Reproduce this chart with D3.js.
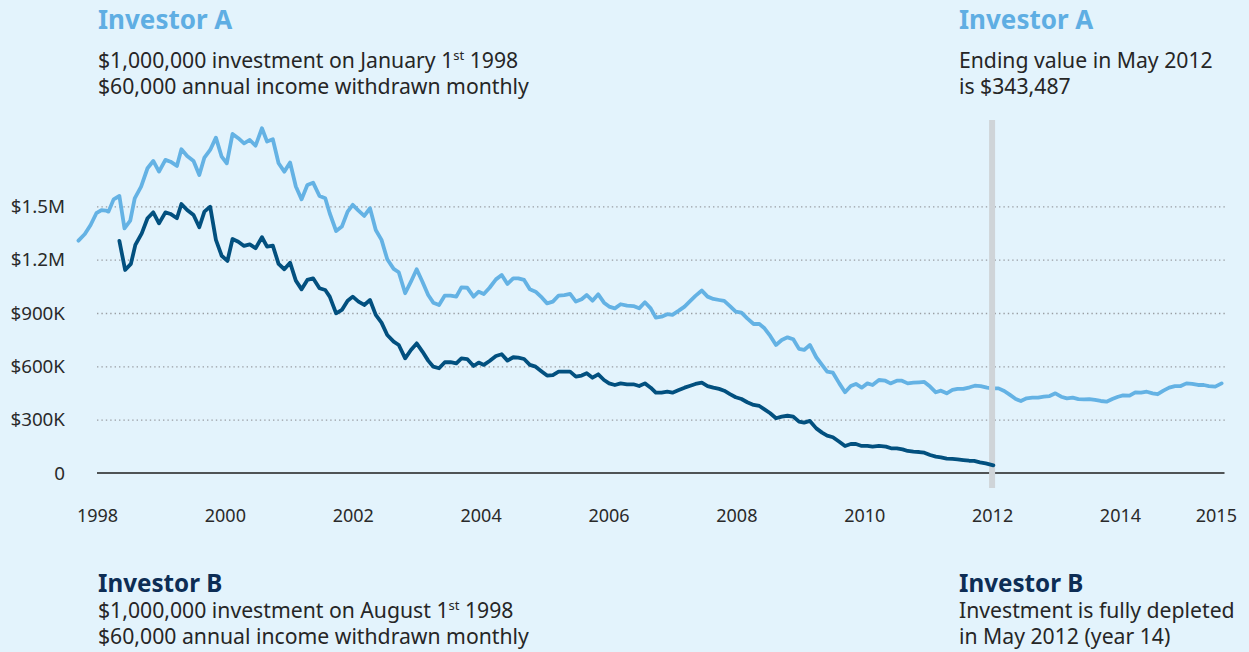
<!DOCTYPE html>
<html><head><meta charset="utf-8">
<script src="https://cdn.jsdelivr.net/npm/d3@7"></script>
<style>
html,body{margin:0;padding:0;background:#e3f3fc;}
svg{display:block;font-family:"Noto Sans","Open Sans",sans-serif;}
</style></head>
<body>
<svg id="chart" width="1249" height="652"></svg>
<script>
// ---- data (values in $ thousands, x in decimal years) ----
const investorA = [[1997.71,1307],[1997.81,1344],[1997.90,1395],[1997.99,1461],[1998.07,1479],[1998.14,1476],[1998.18,1470],[1998.26,1539],[1998.35,1558],[1998.43,1376],[1998.52,1419],[1998.59,1545],[1998.69,1611],[1998.79,1714],[1998.88,1755],[1998.97,1695],[1999.07,1761],[1999.15,1751],[1999.25,1727],[1999.32,1821],[1999.41,1783],[1999.51,1755],[1999.60,1676],[1999.68,1774],[1999.77,1817],[1999.86,1886],[1999.95,1779],[2000.03,1742],[2000.12,1907],[2000.21,1883],[2000.30,1854],[2000.39,1873],[2000.48,1841],[2000.58,1939],[2000.66,1864],[2000.75,1877],[2000.84,1742],[2000.93,1695],[2001.02,1746],[2001.11,1611],[2001.20,1539],[2001.29,1620],[2001.38,1633],[2001.48,1558],[2001.57,1545],[2001.64,1461],[2001.74,1361],[2001.83,1386],[2001.92,1470],[2002.00,1508],[2002.09,1476],[2002.18,1446],[2002.27,1489],[2002.36,1367],[2002.45,1311],[2002.54,1202],[2002.64,1148],[2002.72,1129],[2002.82,1011],[2002.91,1076],[2003.00,1146],[2003.09,1076],[2003.18,1001],[2003.26,958],[2003.35,945],[2003.44,998],[2003.53,998],[2003.62,992],[2003.70,1044],[2003.79,1042],[2003.89,992],[2003.97,1020],[2004.05,1007],[2004.14,1042],[2004.24,1089],[2004.33,1114],[2004.42,1063],[2004.51,1095],[2004.59,1095],[2004.68,1086],[2004.77,1033],[2004.86,1020],[2004.96,986],[2005.04,954],[2005.13,964],[2005.22,998],[2005.31,1001],[2005.40,1007],[2005.49,964],[2005.58,977],[2005.66,1001],[2005.75,969],[2005.84,1005],[2005.93,958],[2006.01,936],[2006.10,926],[2006.19,949],[2006.29,941],[2006.39,939],[2006.48,926],[2006.57,960],[2006.66,926],[2006.74,874],[2006.83,879],[2006.92,893],[2007.00,889],[2007.10,913],[2007.19,936],[2007.28,968],[2007.36,996],[2007.46,1026],[2007.55,992],[2007.64,979],[2007.73,973],[2007.81,968],[2007.90,939],[2007.99,908],[2008.08,902],[2008.17,870],[2008.27,838],[2008.36,838],[2008.44,814],[2008.53,771],[2008.62,720],[2008.71,748],[2008.80,763],[2008.89,752],[2008.98,698],[2009.06,692],[2009.15,720],[2009.25,651],[2009.34,608],[2009.42,570],[2009.51,564],[2009.61,504],[2009.70,454],[2009.79,489],[2009.87,501],[2009.96,480],[2010.05,504],[2010.13,495],[2010.23,523],[2010.33,519],[2010.41,504],[2010.51,519],[2010.59,519],[2010.68,504],[2010.77,508],[2010.86,510],[2010.94,512],[2011.03,486],[2011.12,454],[2011.20,463],[2011.29,448],[2011.38,467],[2011.46,473],[2011.55,473],[2011.65,482],[2011.73,491],[2011.82,489],[2011.92,480],[2012.00,476],[2012.10,476],[2012.19,461],[2012.28,439],[2012.37,416],[2012.45,405],[2012.54,420],[2012.63,424],[2012.72,424],[2012.81,429],[2012.90,433],[2012.99,448],[2013.08,429],[2013.17,420],[2013.26,424],[2013.35,416],[2013.44,414],[2013.52,416],[2013.61,411],[2013.70,405],[2013.79,401],[2013.88,416],[2013.97,429],[2014.05,437],[2014.15,435],[2014.24,454],[2014.33,452],[2014.42,457],[2014.51,448],[2014.59,443],[2014.68,463],[2014.77,480],[2014.86,489],[2014.95,489],[2015.04,504],[2015.13,501],[2015.22,495],[2015.31,495],[2015.39,489],[2015.49,486],[2015.59,504]];

const investorB = [[1998.35,1305],[1998.44,1142],[1998.53,1176],[1998.60,1283],[1998.70,1348],[1998.79,1433],[1998.88,1466],[1998.97,1404],[1999.07,1466],[1999.15,1457],[1999.25,1433],[1999.32,1513],[1999.41,1479],[1999.51,1451],[1999.60,1382],[1999.68,1470],[1999.77,1498],[1999.86,1311],[1999.95,1222],[2000.04,1193],[2000.12,1316],[2000.21,1301],[2000.30,1277],[2000.39,1286],[2000.48,1264],[2000.58,1326],[2000.66,1273],[2000.75,1279],[2000.84,1176],[2000.93,1146],[2001.02,1183],[2001.11,1082],[2001.20,1033],[2001.29,1086],[2001.38,1095],[2001.48,1039],[2001.57,1029],[2001.64,992],[2001.74,898],[2001.83,917],[2001.92,969],[2002.00,992],[2002.09,964],[2002.18,945],[2002.27,973],[2002.36,889],[2002.45,846],[2002.54,776],[2002.64,739],[2002.72,720],[2002.82,645],[2002.91,692],[2003.00,729],[2003.09,683],[2003.18,632],[2003.26,598],[2003.35,589],[2003.44,623],[2003.53,623],[2003.62,617],[2003.70,645],[2003.79,641],[2003.89,602],[2003.97,621],[2004.05,608],[2004.14,630],[2004.24,658],[2004.33,668],[2004.42,632],[2004.51,651],[2004.59,649],[2004.68,641],[2004.77,608],[2004.86,598],[2004.96,570],[2005.04,548],[2005.13,551],[2005.22,570],[2005.31,570],[2005.40,570],[2005.49,542],[2005.58,548],[2005.66,561],[2005.75,536],[2005.84,555],[2005.93,523],[2006.01,504],[2006.10,495],[2006.19,504],[2006.29,499],[2006.39,499],[2006.48,489],[2006.57,504],[2006.66,480],[2006.74,452],[2006.83,452],[2006.92,457],[2007.00,452],[2007.10,467],[2007.19,480],[2007.28,491],[2007.36,501],[2007.46,508],[2007.55,489],[2007.64,480],[2007.73,473],[2007.81,463],[2007.90,444],[2007.99,426],[2008.08,416],[2008.17,398],[2008.27,383],[2008.36,377],[2008.44,358],[2008.53,336],[2008.62,308],[2008.71,317],[2008.80,322],[2008.89,317],[2008.98,289],[2009.06,283],[2009.15,293],[2009.25,251],[2009.34,227],[2009.42,210],[2009.51,201],[2009.61,176],[2009.70,152],[2009.79,163],[2009.87,163],[2009.96,152],[2010.05,152],[2010.13,148],[2010.23,152],[2010.34,148],[2010.42,139],[2010.51,139],[2010.60,133],[2010.68,124],[2010.77,120],[2010.86,118],[2010.94,114],[2011.03,101],[2011.12,92],[2011.20,88],[2011.29,81],[2011.38,79],[2011.46,77],[2011.55,73],[2011.64,69],[2011.72,68],[2011.81,60],[2011.90,54],[2012.02,43]];

const xTickValues = [1998, 2000, 2002, 2004, 2006, 2008, 2010, 2012, 2014, 2015.5];
const xTickLabels = ["1998", "2000", "2002", "2004", "2006", "2008", "2010", "2012", "2014", "2015"];
const yTickValues = [0, 300, 600, 900, 1200, 1500];
const yTickLabels = ["0", "$300K", "$600K", "$900K", "$1.2M", "$1.5M"];
const depletionYear = 2012;

// ---- scales ----
const x = d3.scaleLinear().domain([1998, 2015.635]).range([97, 1224.5]);
const y = d3.scaleLinear().domain([0, 1500]).range([473, 206.3]);

const svg = d3.select("#chart");
svg.append("rect").attr("width", 1249).attr("height", 652).attr("fill", "#e3f3fc");

// gridlines + y labels
const yAxis = d3.axisLeft(y).tickValues(yTickValues)
  .tickFormat((d, i) => yTickLabels[i])
  .tickSize(-(x.range()[1] - x.range()[0] + 2)).tickPadding(32);
const gy = svg.append("g").attr("transform", `translate(${x.range()[0]},0)`).call(yAxis);
gy.select(".domain").remove();
gy.selectAll(".tick line").attr("stroke", "#9a9ea3").attr("stroke-width", 1.3)
  .attr("stroke-dasharray", "1.4,3");
gy.selectAll(".tick text").attr("font-size", 18.8).attr("fill", "#2a2a2a")
  .attr("font-family", "'Noto Sans', sans-serif").attr("dy", "0.33em");
gy.selectAll(".tick").filter(d => d === 0).select("line").remove();

// baseline
svg.append("line").attr("x1", x.range()[0]).attr("x2", x.range()[1])
  .attr("y1", y(0)).attr("y2", y(0)).attr("stroke", "#1e1e1e").attr("stroke-width", 1.4);

// x axis labels
const xAxis = d3.axisBottom(x).tickValues(xTickValues)
  .tickFormat((d, i) => xTickLabels[i]).tickSize(0).tickPadding(36);
const gx = svg.append("g").attr("transform", `translate(0,${y(0)})`).call(xAxis);
gx.select(".domain").remove();
gx.selectAll(".tick text").attr("font-size", 18).attr("fill", "#2a2a2a")
  .attr("font-family", "'Noto Sans', sans-serif");

const line = d3.line().x(d => x(d[0])).y(d => y(d[1])).curve(d3.curveLinear);

svg.append("path").datum(investorA).attr("d", line)
  .attr("fill", "none").attr("stroke", "#64b2e4").attr("stroke-width", 3.8)
  .attr("stroke-linejoin", "round").attr("stroke-linecap", "round");

// depletion marker
svg.append("line").attr("x1", x(depletionYear)).attr("x2", x(depletionYear))
  .attr("y1", y(1985)).attr("y2", y(-85))
  .attr("stroke", "#cfd4d8").attr("stroke-width", 6);

svg.append("path").datum(investorB).attr("d", line)
  .attr("fill", "none").attr("stroke", "#02507f").attr("stroke-width", 3.8)
  .attr("stroke-linejoin", "round").attr("stroke-linecap", "round");

// ---- annotations: one text block each (title + body lines) ----
function block(xp, titleY, titleTxt, titleColor, titleSize, firstGap, lines) {
  const t = svg.append("text").attr("x", xp).attr("y", titleY).attr("fill", "#262626");
  t.append("tspan").attr("x", xp).text(titleTxt)
    .attr("font-size", titleSize).attr("font-weight", 700).attr("fill", titleColor);
  lines.forEach((parts, li) => {
    let first = true;
    parts.forEach(p => {
      const s = t.append("tspan").attr("font-size", 21.2);
      if (first) { s.attr("x", xp).attr("dy", li === 0 ? firstGap : 26); first = false; }
      if (typeof p === "string") {
        s.text(p);
        if (s.attr("x") === null) s.attr("dy", s.attr("dy") || null);
      } else {
        s.text(p.sup).attr("font-size", 13).attr("dy", -8).attr("data-sup", 1);
      }
    });
  });
  // return to baseline after superscripts
  t.selectAll("tspan").each(function (d, i, n) {
    const prev = i > 0 ? n[i - 1] : null;
    if (prev && prev.getAttribute("data-sup")) d3.select(this).attr("dy", 8);
  });
}
block(98, 29, "Investor A", "#5faee3", 26, 39,
  [["$1,000,000 investment on January 1", {sup: "st"}, " 1998"],
   ["$60,000 annual income withdrawn monthly"]]);
block(959, 29, "Investor A", "#5faee3", 26, 39,
  [["Ending value in May 2012"], ["is $343,487"]]);
block(98, 592, "Investor B", "#0d2d55", 24.2, 26,
  [["$1,000,000 investment on August 1", {sup: "st"}, " 1998"],
   ["$60,000 annual income withdrawn monthly"]]);
block(959, 592, "Investor B", "#0d2d55", 24.2, 26,
  [["Investment is fully depleted"], ["in May 2012 (year 14)"]]);
</script>
</body></html>
